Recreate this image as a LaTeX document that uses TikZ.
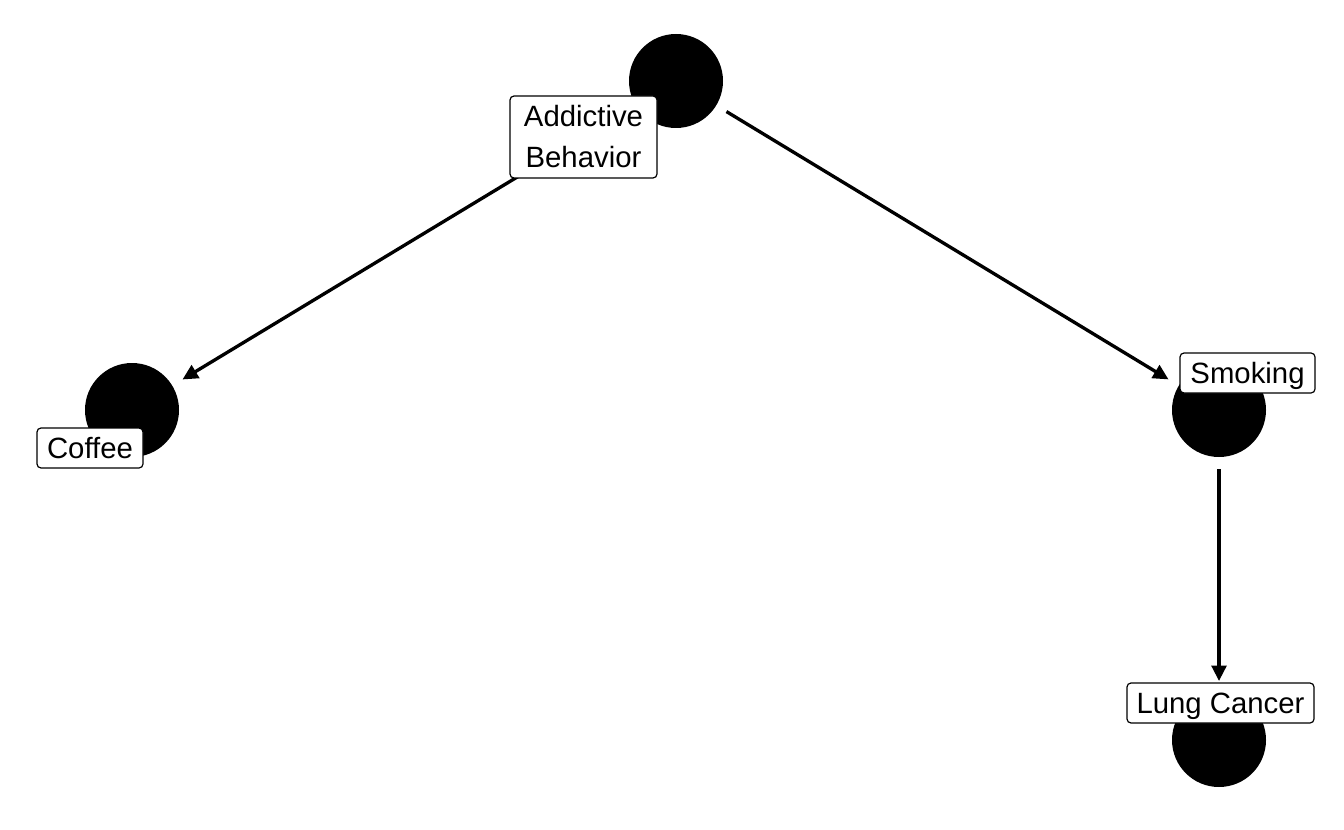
\documentclass[tikz,border=0pt]{standalone}
\usepackage{fontspec}
\setmainfont{Liberation Sans}
\usetikzlibrary{arrows.meta}
\begin{document}
\begin{tikzpicture}[x=0.75pt,y=-0.75pt,
  dot/.style={circle,fill=black,minimum size=70.5pt,inner sep=0pt,outer sep=9pt},
  lbl/.style={draw=black,fill=white,rounded corners=3pt,line width=0.9pt,inner sep=0pt,
    font=\fontsize{22}{30.75}\selectfont,align=center,minimum height=30pt},
  edge/.style={line width=2.5pt,-{Triangle[length=11.5pt,width=11pt]}}]
\useasboundingbox (0,0) rectangle (1344,830);
\node[dot] (ab) at (676,81) {};
\node[dot] (co) at (132,410) {};
\node[dot] (sm) at (1219,410) {};
\node[dot] (lc) at (1219,740) {};
\draw[edge] (ab) -- (co);
\draw[edge] (ab) -- (sm);
\draw[edge] (sm) -- (lc);
\node[lbl,minimum width=110.25pt,minimum height=61.5pt] (abl) at (583.5,137) {Addictive\\Behavior};
\node[lbl,minimum width=79.5pt,text height=15.5pt,text depth=0pt] (col) at (90,448) {Coffee};
\node[lbl,minimum width=101.25pt,text height=15.5pt,text depth=0pt] (sml) at (1247.5,373) {Smoking};
\node[lbl,minimum width=140.25pt,text height=15.5pt,text depth=0pt] (lcl) at (1220.5,703) {Lung Cancer};
\end{tikzpicture}
\end{document}
